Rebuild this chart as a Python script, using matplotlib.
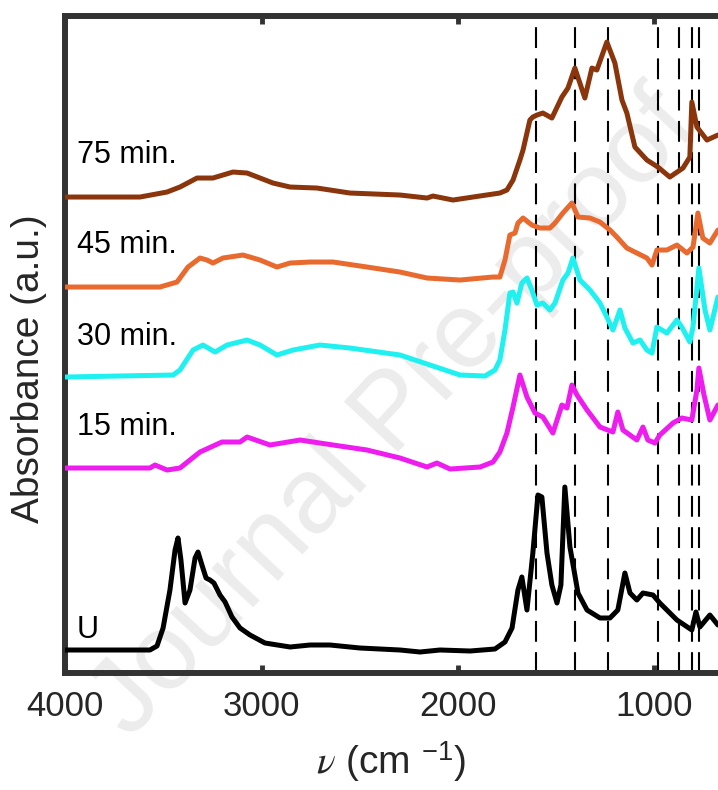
import numpy as np
import matplotlib.pyplot as plt

plt.rcParams['font.family'] = ['Liberation Sans', 'DejaVu Sans']
plt.rcParams['mathtext.fontset'] = 'stix'

# ---------------- data (wavenumber in cm^-1, absorbance in a.u., offset stacked) ----------------
nu_u = [4000, 3569, 3533, 3502, 3467, 3441, 3426, 3411, 3390, 3365, 3339, 3324, 3304, 3283, 3263,
        3243, 3212, 3186, 3151, 3110, 3059, 2983, 2855, 2753, 2652, 2499, 2295, 2193, 2091, 1938,
        1811, 1760, 1724, 1694, 1674, 1648, 1618, 1592, 1572, 1546, 1521, 1495, 1475, 1455, 1429,
        1388, 1342, 1276, 1225, 1185, 1149, 1123, 1088, 1057, 1006, 971, 884, 808, 787, 767, 716, 675]
abs_u = [0.23, 0.23, 0.27, 0.45, 0.83, 1.23, 1.35, 1.13, 0.70, 0.83, 1.15, 1.21, 1.08, 0.95, 0.93,
         0.90, 0.78, 0.71, 0.56, 0.45, 0.38, 0.30, 0.26, 0.28, 0.28, 0.25, 0.23, 0.21, 0.23, 0.22,
         0.24, 0.31, 0.45, 0.83, 0.96, 0.63, 1.20, 1.78, 1.76, 1.20, 0.88, 0.70, 0.88, 1.86, 1.26,
         0.80, 0.63, 0.55, 0.55, 0.63, 1.00, 0.80, 0.73, 0.80, 0.78, 0.70, 0.53, 0.43, 0.61, 0.46, 0.58, 0.48]

nu_15 = [4000, 3569, 3543, 3482, 3416, 3314, 3202, 3110, 3074, 2957, 2804, 2636, 2463, 2295, 2157,
         2107, 2040, 1887, 1821, 1786, 1750, 1719, 1684, 1648, 1607, 1567, 1516, 1470, 1444, 1419,
         1393, 1342, 1276, 1210, 1185, 1159, 1088, 1057, 1032, 996, 971, 904, 859, 808, 782, 772,
         746, 716, 675]
abs_15 = [2.05, 2.05, 2.08, 2.03, 2.05, 2.21, 2.31, 2.31, 2.36, 2.28, 2.33, 2.28, 2.23, 2.15, 2.06,
          2.10, 2.04, 2.06, 2.11, 2.21, 2.40, 2.66, 2.98, 2.76, 2.60, 2.56, 2.40, 2.68, 2.65, 2.88,
          2.78, 2.63, 2.46, 2.41, 2.61, 2.43, 2.33, 2.46, 2.33, 2.30, 2.38, 2.50, 2.55, 2.53, 2.83, 3.05,
          2.78, 2.53, 2.68]

nu_30 = [4000, 3451, 3416, 3349, 3299, 3237, 3176, 3074, 3008, 2922, 2840, 2703, 2550, 2295, 2142,
         1989, 1862, 1811, 1786, 1760, 1735, 1719, 1699, 1674, 1648, 1623, 1597, 1567, 1531, 1505,
         1465, 1439, 1414, 1378, 1327, 1276, 1241, 1210, 1174, 1149, 1108, 1072, 1037, 1011, 986,
         935, 884, 859, 818, 802, 772, 741, 716, 675]
abs_30 = [2.96, 2.98, 3.03, 3.23, 3.28, 3.21, 3.28, 3.33, 3.28, 3.18, 3.23, 3.28, 3.25, 3.18, 3.08,
          2.98, 2.97, 3.03, 3.13, 3.43, 3.80, 3.81, 3.70, 3.90, 3.95, 3.83, 3.68, 3.70, 3.63, 3.70,
          3.93, 4.00, 4.15, 3.93, 3.83, 3.70, 3.56, 3.43, 3.63, 3.45, 3.30, 3.33, 3.23, 3.20, 3.46,
          3.40, 3.53, 3.46, 3.31, 3.46, 4.05, 3.63, 3.43, 3.76]

nu_45 = [4000, 3518, 3431, 3375, 3314, 3278, 3248, 3197, 3095, 3008, 2922, 2855, 2753, 2636, 2463,
         2295, 2157, 1989, 1821, 1786, 1760, 1735, 1709, 1694, 1668, 1623, 1582, 1531, 1505, 1465,
         1419, 1388, 1327, 1276, 1225, 1190, 1139, 1088, 1037, 1011, 986, 935, 884, 833, 802, 777,
         752, 716, 675]
abs_45 = [3.86, 3.86, 3.91, 4.06, 4.15, 4.13, 4.10, 4.15, 4.18, 4.13, 4.06, 4.10, 4.11, 4.11, 4.06,
          4.01, 3.95, 3.93, 3.96, 3.96, 4.13, 4.38, 4.40, 4.50, 4.55, 4.48, 4.45, 4.45, 4.50, 4.60,
          4.70, 4.56, 4.55, 4.51, 4.43, 4.36, 4.25, 4.20, 4.15, 4.08, 4.23, 4.23, 4.28, 4.20, 4.26, 4.60,
          4.35, 4.30, 4.43]

nu_75 = [4000, 3620, 3482, 3416, 3329, 3248, 3146, 3074, 2942, 2855, 2718, 2550, 2295, 2157, 2127,
         2025, 1923, 1786, 1750, 1719, 1684, 1668, 1633, 1618, 1597, 1567, 1521, 1470, 1439, 1404,
         1353, 1317, 1292, 1241, 1200, 1164, 1139, 1098, 1037, 981, 920, 853, 818, 808, 782, 731, 675]
abs_75 = [4.76, 4.76, 4.81, 4.86, 4.95, 4.95, 5.01, 5.00, 4.90, 4.86, 4.85, 4.80, 4.78, 4.75, 4.77,
          4.73, 4.76, 4.80, 4.83, 4.93, 5.13, 5.23, 5.53, 5.56, 5.58, 5.60, 5.55, 5.76, 5.85, 6.05,
          5.75, 6.05, 6.03, 6.31, 6.10, 5.73, 5.60, 5.26, 5.13, 5.06, 4.96, 5.05, 5.16, 5.71, 5.46, 5.33, 5.38]

labels = ['U', '15 min.', '30 min.', '45 min.', '75 min.']
label_y = [0.35, 2.38, 3.28, 4.20, 5.10]
colors = ['#000000', '#ee1cee', '#1ff0f0', '#e86a2e', '#8a350c']

band_positions = [1602, 1404, 1236, 981, 874, 808, 772]

# ---------------- figure ----------------
fig = plt.figure(figsize=(7.18, 7.90), dpi=100)
ax = fig.add_axes([0.091, 0.1481, 0.913, 0.8316])

# watermark of the source page, kept behind the axes
fig.text(0.55, 0.475, 'Journal Pre-proof', fontsize=78, color='#ececec',
         rotation=47, ha='center', va='center', zorder=-1)
ax.set_facecolor('none')

series = [(nu_u, abs_u), (nu_15, abs_15), (nu_30, abs_30), (nu_45, abs_45), (nu_75, abs_75)]
for (nu, a), c in zip(series, colors):
    ax.plot(nu, a, color=c, lw=3.6, solid_joinstyle='round', solid_capstyle='round', zorder=3)

for b in band_positions:
    ax.axvline(b, color='black', lw=1.5, linestyle=(0, (10, 5)), zorder=2)

for lab, y in zip(labels, label_y):
    ax.text(3940, y, lab, fontsize=22, ha='left', va='baseline', zorder=4)

ax.set_xlim(4000, 660)
ax.set_ylim(0, 6.57)
ax.set_xticks([4000, 3000, 2000, 1000])
ax.set_yticks([])
ax.tick_params(axis='x', direction='in', top=True, length=6, width=3.5, color='#333333',
               labelsize=25, pad=12, labelcolor='#262626')

for s in ax.spines.values():
    s.set_linewidth(4.3)
    s.set_color('#333333')

ax.set_xlabel(r'$\nu$ (cm $^{\mathregular{-1}}$)', fontsize=28, color='#262626', va='center')
ax.xaxis.set_label_coords(0.497, -0.135)
ax.set_ylabel('Absorbance (a.u.)', fontsize=28, color='#262626', va='center')
ax.yaxis.set_label_coords(-0.056, 0.463)

fig.savefig('out.png', dpi=100, facecolor='white')
